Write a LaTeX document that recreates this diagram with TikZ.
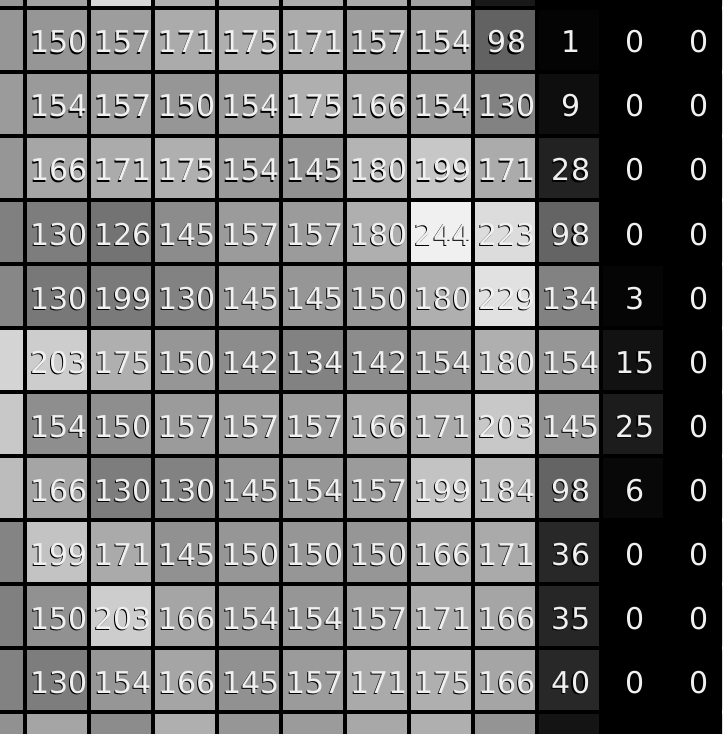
\documentclass[tikz,border=0pt]{standalone}
\usepackage{fontspec}
\setmainfont{DejaVu Sans}
\newcommand\shtxt[1]{\rlap{\kern-0.9pt\raisebox{-0.9pt}{\color{black}#1}}{\color{white!94!black}#1}}
\tikzset{
  pix/.style={inner sep=0pt, minimum width=45pt, minimum height=45pt, draw=none},
  num/.style={inner sep=0pt, anchor=base, font=\fontsize{22.5}{24}\selectfont},
}
\begin{document}
\begin{tikzpicture}[x=0.75pt,y=-0.75pt]
\fill[black] (0,0) rectangle (722,734);
\useasboundingbox (0,0) rectangle (722,734);
\clip (0,0) rectangle (722,734);
% partial top row
\foreach \f [count=\c from 0] in {150,162,215,175,175,172,170,162,25,0,0,0} {
  \definecolor{cc}{RGB}{\f,\f,\f}
  \node[pix, fill=cc] (t-\c) at ({-7+64*\c},-24) {};
}
% partial bottom row
\foreach \f [count=\c from 0] in {145,165,140,175,150,155,168,175,148,20,0,0} {
  \definecolor{cc}{RGB}{\f,\f,\f}
  \node[pix, fill=cc] (b-\c) at ({-7+64*\c},744) {};
}
% partial left column
\foreach \f [count=\r] in {150,155,150,128,135,212,200,188,132,128,130} {
  \definecolor{cc}{RGB}{\f,\f,\f}
  \node[pix, fill=cc] (l-\r) at (-7,{-24+64*\r}) {};
}
% main cells
\foreach \row [count=\r] in {
  {150,157,171,175,171,157,154,98,1/4,0,0},
  {154,157,150,154,175,166,154,130,9/14,0,0},
  {166,171,175,154,145,180,199,171,28/34,0,0},
  {130/125,126/115,145/140,157/155,157/155,180/175,244/240,223/220,98/100,0,0},
  {130/120,199/122,130,145/150,145/150,150,180/175,229/225,134/130,3/5,0},
  {203/205,175,150,142/140,134/130,142/140,154/150,180/175,154/150,15/18,0},
  {154/142,150/142,157/155,157/155,157/155,166/165,171/170,203/200,145,25/28,0},
  {166/165,130/125,130,145,154/150,157/155,199/195,184/180,98/100,6/8,0},
  {199/195,171/170,145,150,150,150,166/165,171/170,36/40,0,0},
  {150/145,203/205,166/165,154/150,154/150,157/155,171/170,166/165,35/38,0,0},
  {130/125,154/150,166/165,145,157/155,171/170,175,166/165,40,0,0}} {
  \foreach \v/\f [count=\c] in \row {
    \definecolor{cc}{RGB}{\f,\f,\f}
    \node[pix, fill=cc] (p-\r-\c) at ({-7+64*\c},{-24+64*\r}) {};
    \node[num] (n-\r-\c) at ([xshift=1.5pt,yshift=-9.75pt]p-\r-\c.center) {\shtxt{\v}};
  }
}
\end{tikzpicture}
\end{document}
